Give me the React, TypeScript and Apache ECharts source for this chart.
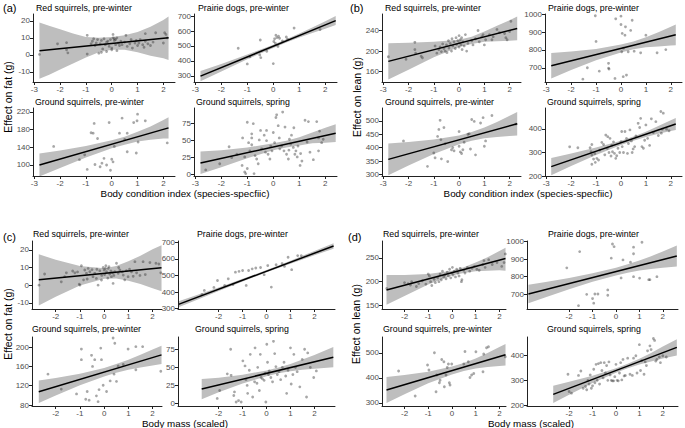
import React, { useEffect, useRef } from "react";
import * as echarts from "echarts";

// ---------- texts & ticks ----------
const panelLabels = ["(a)", "(b)", "(c)", "(d)"];
const speciesTitles = [
  "Red squirrels, pre-winter",
  "Prairie dogs, pre-winter",
  "Ground squirrels, pre-winter",
  "Ground squirrels, spring",
];
const xTitles = ["Body condition index (species-specfiic)", "Body mass (scaled)"];
const yTitles = ["Effect on fat (g)", "Effect on lean (g)"];

const condTicks = [-3, -2, -1, 0, 1, 2];
const massTicks = [-2, -1, 0, 1, 2];
const fatRedTicks = [-10, 0, 10, 20];
const fatPdTicks = [300, 400, 500, 600, 700];
const fatGpTicksA = [100, 140, 180, 220];
const fatGpTicksC = [80, 120, 160, 200];
const fatGsTicks = [0, 25, 50, 75];
const leanRedTicksB = [160, 200, 240];
const leanRedTicksD = [150, 200, 250];
const leanPdTicks = [700, 800, 900, 1000];
const leanGpTicksB = [300, 350, 400, 450, 500];
const leanGpTicksD = [300, 400, 500];
const leanGsTicks = [200, 300, 400];

// ---------- (a) fat vs body condition ----------
const aRedPts = [[-2.8,0.3],[-2.1,6.5],[-1.75,7.2],[-1.75,3],[-1.7,1.2],[-0.95,0.5],[-0.95,11.5],[-0.8,6.5],[-0.75,8],[-0.7,9.5],[-0.65,5.5],[-0.6,7],[-0.55,9],[-0.5,1],[-0.45,6.5],[-0.4,8.5],[-0.4,1.5],[-0.35,3.5],[-0.3,9.5],[-0.25,6],[-0.2,7.5],[-0.2,2],[-0.15,8],[-0.1,5],[-0.05,9],[0,4],[0,3],[0.05,10],[0.05,12],[0.1,8.5],[0.1,9.5],[0.15,9],[0.15,6],[0.2,2.5],[0.2,10],[0.25,7],[0.3,5.5],[0.35,8],[0.4,6],[0.5,7.5],[0.55,11.5],[0.6,5],[0.7,6.5],[0.75,9],[0.8,4],[0.9,7],[0.95,8.5],[1.0,5.5],[1.05,7],[1.1,9],[1.2,6],[1.25,4.5],[1.3,8],[1.3,12.5],[1.4,6.5],[1.5,5.5],[1.6,7.5],[1.7,13],[2.0,7],[2.05,13],[2.1,12],[2.15,10]];
const aRedLine = [[-2.8,2.5],[2.2,10]];
const aRedBand = [[-2.8,-14,19],[-2.4,-11.5,17],[-2,-8.5,15],[-1.5,-5,12.5],[-1,-1.5,10.5],[-0.5,1.5,10],[0,3,10.5],[0.5,3,11.5],[1,1.5,13.5],[1.5,-0.5,16.5],[2,-2,20.5],[2.2,-3,22.5]];

const aPdPts = [[-1.35,485],[-1.0,380],[-0.9,428],[-0.5,540],[-0.52,440],[-0.48,422],[-0.25,465],[0,382],[0.02,530],[0.05,548],[0.08,518],[0.1,572],[0.14,556],[0.2,565],[0.24,552],[0.18,497],[0.35,534],[0.5,560],[0.55,545],[0.8,620],[1.8,610]];
const aPdLine = [[-2.8,298],[2.4,670]];
const aPdBand = [[-2.8,264,332],[-2,330,380],[-1,411,443],[0,487,509],[0.5,523,545],[1,557,583],[1.5,587,623],[2,616,666],[2.4,640,700]];

const aGpPts = [[-2.25,142],[-1.25,112],[-1.05,123],[-0.95,90],[-0.8,173],[-0.72,172],[-0.68,194],[-0.65,101],[-0.55,160],[-0.45,96],[-0.38,104],[-0.3,115],[-0.2,100],[-0.1,196],[-0.05,88],[0,113],[0.05,107],[0.1,142],[0.3,172],[0.4,206],[0.5,158],[0.6,130],[0.6,172],[0.85,196],[0.95,127],[0.98,200],[1.0,215],[1.02,152],[1.3,200],[2.15,150]];
const aGpLine = [[-2.8,100],[2.2,184]];
const aGpBand = [[-2.8,74,126],[-2,93,133],[-1,117,143],[0,138,156],[0.5,146,164],[1,153,175],[1.5,157,187],[2,160,202],[2.2,160,208]];

const aGsPts = [[-2.6,7],[-2.06,16],[-1.7,41],[-1.6,25],[-1.4,30],[-1.18,54],[-1.2,13.5],[-1.1,26],[-1.1,4],[-1.06,1.5],[-1.0,77],[-1.0,9],[-0.95,47],[-0.9,35],[-0.83,60],[-0.83,54],[-0.83,44],[-0.77,75],[-0.74,1.5],[-0.7,28],[-0.64,23],[-0.58,16],[-0.54,51],[-0.49,65],[-0.45,38],[-0.35,58],[-0.3,33],[-0.26,65],[-0.26,50],[-0.2,30],[-0.13,23],[-0.1,42],[-0.05,35],[0.0,62],[0.05,47],[0.1,84],[0.13,88],[0.19,72],[0.23,54],[0.25,38],[0.32,42],[0.36,92],[0.41,35],[0.45,70],[0.51,30],[0.58,23],[0.6,36],[0.62,52],[0.67,45],[0.7,58],[0.77,40],[0.79,69],[0.83,30],[0.87,35],[0.92,26],[0.95,42],[1.03,13.5],[1.05,31],[1.1,20],[1.22,80],[1.3,48],[1.35,78],[1.41,33],[1.54,22],[1.67,78],[1.74,54],[1.74,35],[1.78,64],[1.86,47],[1.92,52]];
const aGsLine = [[-2.8,17],[2.4,61]];
const aGsBand = [[-2.8,1,34],[-2,11,36],[-1,24,40],[0,36,46],[0.5,40,50],[1,43,55],[1.5,46,62],[2,47,69],[2.4,48,74]];

// ---------- (b) lean vs body condition ----------
const bRedPts = [[-2.8,189],[-2.1,184],[-1.75,217],[-1.75,203],[-1.72,196],[-1.5,190],[-1.45,187],[-0.95,210],[-0.88,196],[-0.8,203],[-0.75,208],[-0.7,199],[-0.65,214],[-0.6,205],[-0.55,200],[-0.5,212],[-0.48,197],[-0.42,220],[-0.4,206],[-0.35,215],[-0.3,200],[-0.28,224],[-0.25,210],[-0.2,218],[-0.15,205],[-0.12,226],[-0.1,213],[-0.05,220],[0,208],[0,230],[0.02,216],[0.05,222],[0.08,212],[0.1,226],[0.12,203],[0.15,218],[0.2,210],[0.25,232],[0.3,200],[0.35,215],[0.5,220],[0.55,212],[0.65,224],[0.75,240],[0.8,218],[0.9,228],[0.95,232],[1.0,212],[1.05,222],[1.2,232],[1.3,222],[1.35,228],[1.5,242],[1.6,236],[1.8,234],[1.85,226],[1.9,222],[2.0,238],[2.05,258]];
const bRedLine = [[-2.8,180],[2.3,244]];
const bRedBand = [[-2.8,145,215],[-2,164,216],[-1,188,218],[0,208,222],[0.5,214,228],[1,218,238],[1.5,219,249],[2,220,260],[2.3,221,267]];

const bPdPts = [[-1.03,992],[-1.0,848],[-1.53,636],[-1.35,700],[-0.87,681],[-0.5,725],[-0.5,698],[-0.48,693],[-0.21,975],[0,990],[0,943],[0.05,893],[0.16,883],[0.18,930],[0.39,910],[0.45,967],[0.09,650],[0.22,659],[-0.24,640],[0.03,790],[0.1,810],[0.29,790],[0.53,793],[0.79,784],[1.0,883],[1.45,784],[1.8,802]];
const bPdLine = [[-2.8,711],[2.2,885]];
const bPdBand = [[-2.8,639,783],[-2,687,791],[-1,742,806],[0,786,830],[0.5,804,848],[1,815,871],[1.5,820,900],[2,825,931],[2.2,827,943]];

const bGpPts = [[-2.2,425],[-1.25,330],[-1.0,380],[-0.95,362],[-0.85,442],[-0.8,468],[-0.75,502],[-0.72,430],[-0.6,475],[-0.7,358],[-0.45,348],[-0.3,392],[-0.25,400],[-0.2,388],[0,460],[0,405],[0.05,384],[0.1,378],[0.15,392],[0.35,450],[0.4,452],[0.5,505],[0.6,498],[0.65,373],[0.85,492],[0.95,512],[1.0,405],[1.05,425],[1.3,520],[2.25,488],[0.45,395],[-0.55,415],[0.2,420]];
const bGpLine = [[-2.8,356],[2.3,489]];
const bGpBand = [[-2.8,297,415],[-2,333,421],[-1,376,430],[0,413,445],[0.5,426,458],[1,435,475],[1.5,440,496],[2,443,519],[2.3,445,533]];

const bGsPts = [[-2.06,324],[-1.73,320],[-1.24,320],[-1.17,334],[-1.2,303],[-1.17,289],[-1.1,272],[-1.17,250],[-1.03,258],[-0.97,275],[-1.05,295],[-0.9,268],[-0.85,310],[-0.77,343],[-0.7,334],[-0.65,290],[-0.61,374],[-0.55,318],[-0.53,367],[-0.48,300],[-0.44,360],[-0.4,285],[-0.37,331],[-0.34,303],[-0.3,345],[-0.26,296],[-0.21,275],[-0.17,286],[-0.12,318],[-0.05,300],[0,346],[0.03,389],[0.05,325],[0.1,300],[0.16,389],[0.22,360],[0.26,296],[0.3,338],[0.36,396],[0.42,349],[0.45,300],[0.49,315],[0.55,325],[0.6,370],[0.69,424],[0.75,406],[0.79,445],[0.84,325],[0.9,318],[0.95,352],[1.0,417],[1.07,360],[1.15,330],[1.22,443],[1.3,385],[1.4,431],[1.5,372],[1.6,474],[1.62,382],[1.66,399],[1.7,467],[1.83,399],[1.93,392]];
const bGsLine = [[-2.8,240],[2.2,421]];
const bGsBand = [[-2.8,203,277],[-2,242,296],[-1,289,321],[0,332,350],[0.5,350,368],[1,366,388],[1.5,380,412],[2,391,437],[2.2,395,447]];

// ---------- (c) fat vs body mass ----------
const cRedPts = [[-2.69,0],[-2.46,6.3],[-1.77,1.9],[-1.63,4.8],[-1.56,7],[-1.3,8],[-1.21,7],[-1.1,7.5],[-1.03,0.6],[-1,0],[-0.94,11],[-0.85,3],[-0.8,8.6],[-0.73,6.7],[-0.7,3.5],[-0.66,9.5],[-0.59,7.6],[-0.5,8.8],[-0.46,4.8],[-0.39,6.7],[-0.32,3.8],[-0.3,9],[-0.25,0],[-0.18,8.2],[-0.11,2.9],[-0.1,5.5],[-0.04,10],[0,8.6],[0.02,6],[0.05,9.5],[0.07,11],[0.1,7.6],[0.15,4],[0.17,9.5],[0.2,10.5],[0.23,6.3],[0.28,8],[0.3,4.8],[0.35,7],[0.37,1],[0.4,5.5],[0.44,7.6],[0.51,12.4],[0.58,6.7],[0.6,10],[0.65,8.6],[0.75,7.5],[0.79,5.7],[0.85,3],[0.92,8.2],[0.99,4.8],[1.05,9],[1.13,7.6],[1.2,5],[1.27,13.3],[1.34,7],[1.48,5.5],[1.61,13.3],[1.7,6],[1.89,12.8],[2.14,12.4],[2.26,12],[2.34,7]];
const cRedLine = [[-2.7,3],[2.37,9.8]];
const cRedBand = [[-2.7,-11.5,17.5],[-2,-6.6,14.4],[-1,-0.2,10.8],[0,3.6,9.6],[0.5,3.8,10.8],[1,2.5,13.5],[1.5,0.7,16.7],[2,-1.7,20.3],[2.37,-3.5,22.6]];

const cPdPts = [[-2.7,385],[-2.6,410],[-2.2,428],[-2.05,470],[-1.75,440],[-1.6,480],[-1.4,445],[-1.3,520],[-1.15,525],[-1.0,530],[-0.85,440],[-0.75,530],[-0.6,540],[-0.45,545],[-0.25,548],[-0.1,505],[0.05,560],[0.2,430],[0.4,565],[0.65,572],[0.75,555],[0.9,610],[1.05,535],[1.3,620],[1.45,620]];
const cPdLine = [[-3.68,326],[2.8,678]];
const cPdBand = [[-3.68,308,344],[-3,348,378],[-2,406,428],[-1,464,480],[0,519,533],[0.5,545,561],[1,571,589],[1.5,597,619],[2,622,648],[2.8,661,695]];

const cGpPts = [[-2.32,144],[-1.77,113],[-1.14,103],[-0.94,196],[-0.94,174],[-0.76,92],[-0.7,108],[-0.62,90],[-0.52,183],[-0.48,160],[-0.39,174],[-0.32,99],[-0.25,87],[-0.21,112],[-0.14,198],[-0.11,174],[-0.04,121],[0.1,108],[0.25,130],[0.37,219],[0.44,208],[0.41,144],[0.51,129],[0.58,161],[0.79,164],[0.99,196],[1.31,201],[1.59,201],[1.31,153],[2.34,150]];
const cGpLine = [[-2.7,107.6],[2.37,184]];
const cGpBand = [[-2.7,84,131],[-2,100,136],[-1,121,145],[0,139,157],[0.5,147,165],[1,153,174],[1.5,158,184],[2,162,195],[2.37,165,203]];

const cGsPts = [[-2.06,7],[-1.96,18],[-1.64,41],[-1.5,75],[-1.48,39],[-1.37,11],[-1.34,16],[-1.27,2],[-1.17,4],[-1.06,2],[-0.99,59],[-0.9,52],[-0.86,33],[-0.81,25],[-0.79,14],[-0.72,46],[-0.68,68],[-0.58,9],[-0.5,30],[-0.48,77],[-0.4,28],[-0.37,50],[-0.3,18],[-0.26,68],[-0.23,36],[-0.17,34],[-0.1,32],[-0.06,42],[-0.03,2],[0.01,82],[0.04,57],[0.08,40],[0.11,45],[0.18,36],[0.25,30],[0.29,86],[0.34,69],[0.39,51],[0.45,40],[0.52,44],[0.59,33],[0.66,50],[0.73,57],[0.8,38],[0.84,14],[0.9,46],[1.0,77],[1.03,27],[1.1,40],[1.14,68],[1.21,50],[1.28,44],[1.39,23],[1.49,61],[1.59,75],[1.67,9],[1.72,70],[1.83,50],[1.97,36],[2.08,45]];
const cGsLine = [[-2.71,20],[2.79,64]];
const cGsBand = [[-2.71,6,34],[-2,15.7,35.7],[-1,27.7,39.7],[0,37.7,45.7],[0.5,41.7,49.7],[1,44.7,54.7],[1.5,46.7,60.7],[2,48.2,67.2],[2.79,50,78]];

// ---------- (d) lean vs body mass ----------
const dRedPts = [[-2.75,186],[-2.0,198],[-1.85,196],[-1.75,193],[-1.7,200],[-1.5,190],[-1.4,196],[-1.25,202],[-1.1,195],[-1.0,216],[-0.95,212],[-0.9,200],[-0.85,192],[-0.75,205],[-0.7,198],[-0.6,208],[-0.55,200],[-0.5,216],[-0.45,204],[-0.4,222],[-0.35,210],[-0.3,214],[-0.25,206],[-0.2,220],[-0.15,212],[-0.1,226],[-0.05,208],[0,218],[0.02,230],[0.05,214],[0.1,222],[0.15,210],[0.2,226],[0.25,218],[0.3,212],[0.35,228],[0.4,200],[0.42,204],[0.5,224],[0.55,218],[0.65,230],[0.75,222],[0.85,228],[0.95,232],[1.05,226],[1.15,224],[1.3,236],[1.35,244],[1.4,230],[1.55,246],[1.7,236],[1.9,240],[2.1,232],[2.2,240],[2.25,258]];
const dRedLine = [[-2.76,182.7],[2.26,248.6]];
const dRedBand = [[-2.76,152,214],[-2,170,214],[-1,194,216],[0,213,223],[0.5,218,230],[1,222,240],[1.5,223,251],[2,224,264],[2.26,223,271]];

const dPdPts = [[-2.1,850],[-1.55,942],[-1.6,636],[-1.0,676],[-0.9,702],[-0.77,702],[-0.95,650],[-1.25,700],[-0.35,725],[-0.35,695],[-0.15,985],[-0.08,970],[-0.2,905],[0.3,895],[0.62,882],[0.75,967],[0.75,930],[0.75,800],[1.11,995],[1.01,792],[1.4,783],[1.45,783],[1.75,800],[0.22,793]];
const dPdLine = [[-3.74,702],[2.6,917]];
const dPdBand = [[-3.74,650,754],[-3,684,770],[-2,729,793],[-1,771,819],[0,807,851],[0.5,822,870],[1,835,891],[1.5,844,916],[2,851,943],[2.6,858,976]];

const dGpPts = [[-2.25,427],[-1.55,327],[-1.03,451],[-0.97,431],[-0.74,500],[-0.67,344],[-0.64,411],[-0.53,380],[-0.5,390],[-0.43,473],[-0.34,464],[-0.32,364],[-0.25,411],[-0.2,441],[-0.15,455],[-0.11,380],[-0.08,371],[-0.01,455],[0.55,505],[0.5,455],[0.69,464],[0.76,401],[0.83,411],[0.92,417],[1.01,504],[1.31,424],[1.34,495],[1.46,520],[1.54,524],[2.25,484]];
const dGpLine = [[-2.76,351],[2.26,492]];
const dGpBand = [[-2.76,299,403],[-2,334,411],[-1,378,424],[0,413,445],[0.5,427,459],[1,437,477],[1.5,443,499],[2,447,523],[2.26,449,535]];

const dGsPts = [[-2.05,325],[-2.0,255],[-1.9,248],[-1.6,320],[-1.5,338],[-1.4,268],[-1.3,275],[-1.25,262],[-1.2,300],[-1.15,285],[-1.1,322],[-1.05,268],[-1.0,278],[-0.95,345],[-0.9,290],[-0.85,365],[-0.8,300],[-0.75,368],[-0.7,285],[-0.65,372],[-0.6,340],[-0.55,310],[-0.5,372],[-0.45,330],[-0.4,360],[-0.35,300],[-0.3,375],[-0.25,322],[-0.2,300],[-0.15,298],[-0.1,298],[-0.05,315],[0,365],[0.05,300],[0.1,298],[0.15,330],[0.2,372],[0.25,302],[0.3,385],[0.35,318],[0.4,320],[0.5,390],[0.6,325],[0.7,320],[0.75,390],[0.85,400],[0.9,330],[1.0,445],[1.05,340],[1.1,380],[1.2,325],[1.25,375],[1.3,360],[1.35,420],[1.45,440],[1.5,425],[1.6,470],[1.65,462],[1.7,378],[1.75,385],[1.85,395],[1.9,372],[2.0,400],[2.15,395]];
const dGsLine = [[-2.68,243],[2.6,434]];
const dGsBand = [[-2.68,208,278],[-2,242,294],[-1,289,319],[0,331,349],[0.5,349,367],[1,364,388],[1.5,377,411],[2,389,437],[2.6,401,467]];

// ---------- layout (positions / scale ranges) ----------
const cells = [
  // (a)
  { pts: aRedPts, line: aRedLine, band: aRedBand, xr: [-3.05, 2.45], yr: [-15.9, 24], xt: condTicks, yt: fatRedTicks, box: [33, 14, 142, 68], ti: 0, tp: [36, 8] },
  { pts: aPdPts, line: aPdLine, band: aPdBand, xr: [-3.05, 2.45], yr: [259, 714], xt: condTicks, yt: fatPdTicks, box: [194, 14, 143, 68], ti: 1, tp: [198, 8] },
  { pts: aGpPts, line: aGpLine, band: aGpBand, xr: [-3.05, 2.45], yr: [75, 229], xt: condTicks, yt: fatGpTicksA, box: [33, 108, 142, 68], ti: 2, tp: [35, 102] },
  { pts: aGsPts, line: aGsLine, band: aGsBand, xr: [-3.05, 2.45], yr: [-2, 98], xt: condTicks, yt: fatGsTicks, box: [194, 108, 143, 68], ti: 3, tp: [196, 102] },
  // (b)
  { pts: bRedPts, line: bRedLine, band: bRedBand, xr: [-3.05, 2.45], yr: [140, 272], xt: condTicks, yt: leanRedTicksB, box: [382, 14, 139, 68], ti: 0, tp: [385, 8] },
  { pts: bPdPts, line: bPdLine, band: bPdBand, xr: [-3.05, 2.45], yr: [620, 1002], xt: condTicks, yt: leanPdTicks, box: [545, 14, 137, 68], ti: 1, tp: [548, 8] },
  { pts: bGpPts, line: bGpLine, band: bGpBand, xr: [-3.05, 2.45], yr: [294, 548], xt: condTicks, yt: leanGpTicksB, box: [382, 108, 139, 68], ti: 2, tp: [385, 102] },
  { pts: bGsPts, line: bGsLine, band: bGsBand, xr: [-3.05, 2.45], yr: [200, 489], xt: condTicks, yt: leanGsTicks, box: [545, 108, 137, 68], ti: 3, tp: [547, 102] },
  // (c)
  { pts: cRedPts, line: cRedLine, band: cRedBand, xr: [-2.98, 2.39], yr: [-13.5, 25], xt: massTicks, yt: fatRedTicks, box: [32, 241, 130, 68], ti: 0, tp: [33, 234] },
  { pts: cPdPts, line: cPdLine, band: cPdBand, xr: [-3.7, 2.86], yr: [298, 708], xt: massTicks, yt: fatPdTicks, box: [178, 241, 157, 68], ti: 1, tp: [197, 234] },
  { pts: cGpPts, line: cGpLine, band: cGpBand, xr: [-2.98, 2.39], yr: [78, 221], xt: massTicks, yt: fatGpTicksC, box: [32, 337, 130, 69], ti: 2, tp: [32, 329] },
  { pts: cGsPts, line: cGsLine, band: cGsBand, xr: [-3.7, 2.86], yr: [-3.5, 92], xt: massTicks, yt: fatGsTicks, box: [178, 337, 157, 69], ti: 3, tp: [195, 329] },
  // (d)
  { pts: dRedPts, line: dRedLine, band: dRedBand, xr: [-2.95, 2.28], yr: [143, 285], xt: massTicks, yt: leanRedTicksD, box: [382, 241, 124, 68], ti: 0, tp: [383, 234] },
  { pts: dPdPts, line: dPdLine, band: dPdBand, xr: [-3.8, 2.65], yr: [617, 1002], xt: massTicks, yt: leanPdTicks, box: [527, 241, 151, 68], ti: 1, tp: [548, 234] },
  { pts: dGpPts, line: dGpLine, band: dGpBand, xr: [-2.95, 2.28], yr: [287, 563], xt: massTicks, yt: leanGpTicksD, box: [382, 337, 124, 69], ti: 2, tp: [383, 329] },
  { pts: dGsPts, line: dGsLine, band: dGsBand, xr: [-3.8, 2.65], yr: [196, 476], xt: massTicks, yt: leanGsTicks, box: [527, 337, 151, 69], ti: 3, tp: [547, 329] },
];

const panelLabelPos = [[3, 8], [350, 8], [3, 237], [348, 237]];
const xTitlePos = [[185, 193, 0], [528, 193, 0], [185, 423, 1], [531, 423, 1]];
const yTitlePos = [[8, 97, 0], [357, 97, 1], [8, 324, 0], [356, 324, 1]];

const FONT = '"Liberation Sans", Arial, sans-serif';
const AXIS_COLOR = "#222";
const TICK_TEXT = "#4d4d4d";
const BAND_FILL = "#bebebe";

function makeBandRenderer(rows: number[][]) {
  return (params: any, api: any) => {
    if (params.dataIndex !== 0) return null;
    const upper = rows.map((r) => api.coord([r[0], r[2]]));
    const lower = rows.slice().reverse().map((r) => api.coord([r[0], r[1]]));
    return {
      type: "polygon",
      shape: { points: upper.concat(lower) },
      style: { fill: BAND_FILL },
      silent: true,
    };
  };
}

function buildOption() {
  const grid = cells.map((c) => ({
    left: c.box[0],
    top: c.box[1],
    width: c.box[2],
    height: c.box[3],
    containLabel: false,
  }));
  const axisCommon = {
    type: "value",
    zlevel: 1,
    z: 5,
    splitLine: { show: false },
    axisLine: { show: true, onZero: false, lineStyle: { color: AXIS_COLOR, width: 1 } },
  };
  const fmt = (v: number) => String(v);
  const xAxis = cells.map((c, i) => ({
    ...axisCommon,
    gridIndex: i,
    min: c.xr[0],
    max: c.xr[1],
    axisTick: { show: true, length: 3, customValues: c.xt, lineStyle: { color: AXIS_COLOR } },
    axisLabel: { customValues: c.xt, formatter: fmt, fontSize: 8, color: TICK_TEXT, margin: 3, fontFamily: FONT },
  }));
  const yAxis = cells.map((c, i) => ({
    ...axisCommon,
    gridIndex: i,
    min: c.yr[0],
    max: c.yr[1],
    axisTick: { show: true, length: 3, customValues: c.yt, lineStyle: { color: AXIS_COLOR } },
    axisLabel: { customValues: c.yt, formatter: fmt, fontSize: 8, color: TICK_TEXT, margin: 3, fontFamily: FONT },
  }));
  const series: any[] = [];
  cells.forEach((c, i) => {
    series.push({
      type: "custom",
      xAxisIndex: i,
      yAxisIndex: i,
      data: c.band,
      encode: { x: 0, y: [1, 2] },
      renderItem: makeBandRenderer(c.band),
      clip: true,
      silent: true,
      zlevel: 0,
      z: 1,
    });
    series.push({
      type: "scatter",
      xAxisIndex: i,
      yAxisIndex: i,
      data: c.pts,
      symbolSize: 2.8,
      itemStyle: { color: "rgba(55,55,55,0.55)" },
      silent: true,
      zlevel: 0,
      z: 2,
    });
    series.push({
      type: "line",
      xAxisIndex: i,
      yAxisIndex: i,
      data: c.line,
      symbol: "none",
      showSymbol: false,
      lineStyle: { color: "#000", width: 1.5 },
      clip: true,
      silent: true,
      zlevel: 0,
      z: 3,
    });
  });

  const graphic: any[] = [];
  cells.forEach((c) => {
    graphic.push({
      type: "text",
      x: c.tp[0],
      y: c.tp[1],
      silent: true,
      style: { text: speciesTitles[c.ti], font: `8.8px ${FONT}`, fill: "#000", textAlign: "left", textVerticalAlign: "middle" },
    });
  });
  panelLabels.forEach((t, i) => {
    graphic.push({
      type: "text",
      x: panelLabelPos[i][0],
      y: panelLabelPos[i][1],
      silent: true,
      style: { text: t, font: `11px ${FONT}`, fill: "#000", textAlign: "left", textVerticalAlign: "middle" },
    });
  });
  xTitlePos.forEach((p) => {
    graphic.push({
      type: "text",
      x: p[0],
      y: p[1],
      silent: true,
      style: { text: xTitles[p[2]], font: `9.8px ${FONT}`, fill: "#000", textAlign: "center", textVerticalAlign: "middle" },
    });
  });
  yTitlePos.forEach((p) => {
    graphic.push({
      type: "text",
      x: p[0],
      y: p[1],
      rotation: Math.PI / 2,
      silent: true,
      style: { text: yTitles[p[2]], font: `10.5px ${FONT}`, fill: "#000", textAlign: "center", textVerticalAlign: "middle" },
    });
  });

  return {
    animation: false,
    backgroundColor: "#ffffff",
    grid,
    xAxis,
    yAxis,
    series,
    graphic,
  };
}

export default function App() {
  const ref = useRef<HTMLDivElement>(null);
  useEffect(() => {
    document.body.style.margin = "0";
    if (!ref.current) return;
    const chart = echarts.init(ref.current, undefined, { renderer: "svg" });
    chart.setOption(buildOption() as any);
    return () => chart.dispose();
  }, []);
  return (
    <div
      ref={ref}
      style={{ position: "absolute", left: 0, top: 0, width: 685, height: 428, background: "#fff" }}
    />
  );
}
